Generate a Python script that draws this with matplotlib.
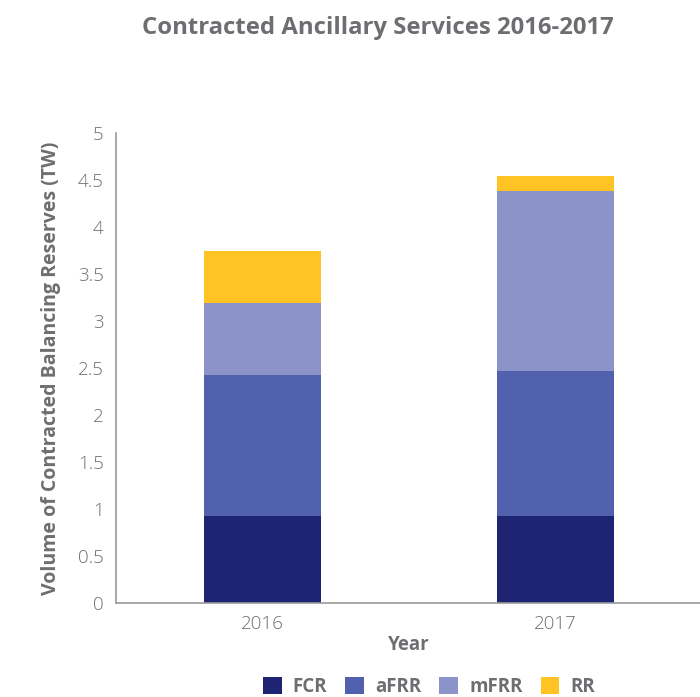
import numpy as np
import matplotlib.pyplot as plt
from matplotlib.ticker import FuncFormatter

# data
years = ["2016", "2017"]
fcr = [0.92, 0.92]
afrr = [1.51, 1.55]
mfrr = [0.765, 1.91]
rr = [0.55, 0.16]
series_names = ["FCR", "aFRR", "mFRR", "RR"]
series_colors = ["#1E2472", "#5161AE", "#8C93C8", "#FFC323"]

text_grey = "#6D6E71"
plt.rcParams['font.family'] = ['Open Sans', 'DejaVu Sans']

fig = plt.figure(figsize=(7, 6.97), dpi=100)
ax = fig.add_axes([0.166, 0.135, 0.837, 0.674])

x = np.arange(len(years))
bottom = np.zeros(len(years))
for vals, name, col in zip([fcr, afrr, mfrr, rr], series_names, series_colors):
    ax.bar(x, vals, width=0.4, bottom=bottom, color=col, label=name)
    bottom += np.array(vals)

ax.set_xlim(-0.5, 1.5)
ax.set_ylim(0, 5)
ax.set_yticks(np.arange(0, 5.01, 0.5))
ax.yaxis.set_major_formatter(FuncFormatter(lambda v, p: f"{v:g}"))
ax.set_xticks(x)
ax.set_xticklabels(years)
ax.tick_params(length=0, labelsize=13.5, labelcolor=text_grey)
ax.tick_params(axis="y", pad=9)
ax.tick_params(axis="x", pad=9)
for lbl in ax.get_xticklabels() + ax.get_yticklabels():
    lbl.set_fontweight("light")

for s in ["top", "right"]:
    ax.spines[s].set_visible(False)
for s in ["left", "bottom"]:
    ax.spines[s].set_color("#9A9A9A")
    ax.spines[s].set_linewidth(1.2)

ax.set_ylabel("Volume of Contracted Balancing Reserves (TW)", fontsize=14,
              fontweight="bold", color=text_grey, labelpad=12)
ax.set_xlabel("Year", fontsize=13.5, fontweight="bold", color=text_grey, labelpad=1)

fig.text(0.54, 0.96, "Contracted Ancillary Services 2016-2017", ha="center", va="center",
         fontsize=17.2, fontweight="bold", color=text_grey)

leg = fig.legend(loc="center", bbox_to_anchor=(0.613, 0.015), ncol=4, frameon=False,
                 handlelength=1.0, handleheight=1.0, handletextpad=0.6, columnspacing=0.95,
                 prop={"size": 13.5, "weight": "bold"})
for t in leg.get_texts():
    t.set_color(text_grey)

fig.savefig("out.png", dpi=100)
